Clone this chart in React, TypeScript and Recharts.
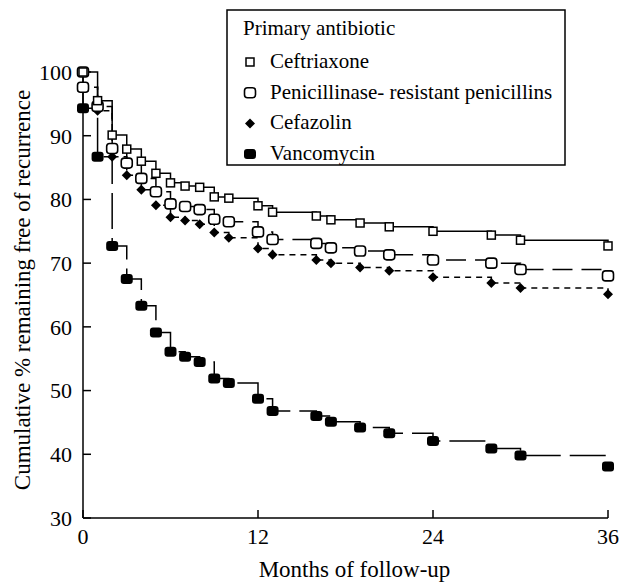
import React from "react";
import { LineChart, Line, XAxis, YAxis, Label } from "recharts";

const FONT = '"Liberation Serif", "Times New Roman", serif';

const monthTicks = [0, 12, 24, 36];
const pctTicks = [30, 40, 50, 60, 70, 80, 90, 100];

const ceftriaxoneMonths = [0, 1, 2, 3, 4, 5, 6, 7, 8, 9, 10, 12, 13, 16, 17, 19, 21, 24, 28, 30, 36];
const ceftriaxonePct = [100, 95.5, 90.1, 87.9, 86.0, 84.1, 82.6, 82.1, 81.9, 80.4, 80.2, 79.0, 78.0, 77.4, 76.8, 76.3, 75.7, 75.0, 74.4, 73.6, 72.7];

const penicillinMonths = [0, 0, 1, 2, 3, 4, 5, 6, 7, 8, 9, 10, 12, 13, 16, 17, 19, 21, 24, 28, 30, 36];
const penicillinPct = [100, 97.6, 94.6, 88.0, 85.7, 83.3, 81.2, 79.3, 78.9, 78.4, 76.9, 76.5, 74.9, 73.7, 73.1, 72.4, 71.9, 71.3, 70.5, 70.0, 69.0, 68.0];

const cefazolinMonths = [0, 1, 2, 3, 4, 5, 6, 7, 8, 9, 10, 12, 13, 16, 17, 19, 21, 24, 28, 30, 36];
const cefazolinPct = [97.6, 93.9, 86.7, 83.8, 81.5, 79.1, 77.2, 76.7, 76.1, 74.8, 74.0, 72.3, 71.3, 70.5, 70.0, 69.3, 68.8, 67.8, 66.9, 66.1, 65.1];

const vancomycinMonths = [0, 0, 1, 2, 3, 4, 5, 6, 7, 8, 9, 10, 12, 13, 16, 17, 19, 21, 24, 28, 30, 36];
const vancomycinPct = [97.6, 94.3, 86.7, 72.7, 67.5, 63.3, 59.1, 56.1, 55.3, 54.5, 51.9, 51.2, 48.7, 46.8, 46.0, 45.1, 44.2, 43.3, 42.1, 40.9, 39.8, 38.1];

const legendTitle = "Primary antibiotic";
const seriesNames = ["Ceftriaxone", "Penicillinase- resistant penicillins", "Cefazolin", "Vancomycin"];

const toRows = (months: number[], pct: number[]) =>
  months.map((m, i) => ({ month: m, pct: pct[i] }));

type Pt = { cx: number; cy: number };

const OpenSquare = ({ cx, cy }: Pt) => (
  <rect x={cx - 4} y={cy - 4} width={8} height={8} fill="#fff" stroke="#000" strokeWidth={1.5} />
);
const OpenRound = ({ cx, cy }: Pt) => (
  <rect x={cx - 5.5} y={cy - 5} width={11} height={10} rx={3} fill="#fff" stroke="#000" strokeWidth={1.6} />
);
const Diamond = ({ cx, cy }: Pt) => (
  <path d={`M${cx},${cy - 5}L${cx + 5},${cy}L${cx},${cy + 5}L${cx - 5},${cy}Z`} fill="#000" />
);
const FilledRound = ({ cx, cy }: Pt) => (
  <rect x={cx - 6} y={cy - 5} width={12} height={10} rx={3} fill="#000" />
);

const shapes = [OpenSquare, OpenRound, Diamond, FilledRound];

const dotOf = (Shape: React.FC<Pt>) => (p: any) => (
  <Shape key={`d-${p.index}`} cx={p.cx} cy={p.cy} />
);

// legend box sits inside the plot, top right
const LegendBox = () => (
  <svg
    width={340}
    height={157}
    style={{ position: "absolute", left: 226, top: 9 }}
    fontFamily={FONT}
    fontSize={21}
  >
    <rect x={1} y={1} width={338} height={155} fill="#fff" stroke="#000" strokeWidth={1.5} />
    <text x={17} y={26} fill="#000">{legendTitle}</text>
    {seriesNames.map((name, i) => {
      const Shape = shapes[i];
      const base = 59 + i * 30.7;
      return (
        <g key={name}>
          <Shape cx={24} cy={base - 6} />
          <text x={44} y={base} fill="#000">{name}</text>
        </g>
      );
    })}
  </svg>
);

export default function App() {
  return (
    <div style={{ position: "relative", width: 620, height: 585, background: "#fff" }}>
      <style>{"body{margin:0;background:#fff}"}</style>
      <LineChart width={620} height={585} margin={{ top: 72, right: 12, bottom: 27, left: 33 }}>
        <XAxis
          type="number"
          dataKey="month"
          domain={[0, 36]}
          ticks={monthTicks}
          allowDuplicatedCategory
          height={40}
          stroke="#000"
          strokeWidth={1.5}
          tickSize={-8}
          tickMargin={18}
          tick={{ fill: "#000", fontSize: 22, fontFamily: FONT }}
        >
          <Label
            content={({ viewBox }: any) => (
              <text
                x={viewBox.x + viewBox.width / 2 + 9}
                y={viewBox.y + 59}
                textAnchor="middle"
                fontSize={23}
                fontFamily={FONT}
                fill="#000"
              >
                Months of follow-up
              </text>
            )}
          />
        </XAxis>
        <YAxis
          type="number"
          domain={[30, 100]}
          ticks={pctTicks}
          width={50}
          stroke="#000"
          strokeWidth={1.5}
          tickSize={-8}
          tickMargin={19}
          tick={{ fill: "#000", fontSize: 22, fontFamily: FONT }}
        >
          <Label
            content={({ viewBox }: any) => {
              const cx = 22;
              const cy = viewBox.y + viewBox.height / 2 - 5;
              return (
                <text
                  x={cx}
                  y={cy}
                  transform={`rotate(-90 ${cx} ${cy})`}
                  textAnchor="middle"
                  dominantBaseline="central"
                  fontSize={23}
                  fontFamily={FONT}
                  fill="#000"
                >
                  Cumulative % remaining free of recurrence
                </text>
              );
            }}
          />
        </YAxis>
        <Line
          data={toRows(vancomycinMonths, vancomycinPct)}
          dataKey="pct"
          type="stepAfter"
          stroke="#000"
          strokeWidth={1.5}
          strokeDasharray="36 9"
          dot={dotOf(FilledRound)}
          activeDot={false}
          isAnimationActive={false}
        />
        <Line
          data={toRows(cefazolinMonths, cefazolinPct)}
          dataKey="pct"
          type="stepAfter"
          stroke="#000"
          strokeWidth={1.5}
          strokeDasharray="6 5"
          dot={dotOf(Diamond)}
          activeDot={false}
          isAnimationActive={false}
        />
        <Line
          data={toRows(penicillinMonths, penicillinPct)}
          dataKey="pct"
          type="stepAfter"
          stroke="#000"
          strokeWidth={1.5}
          strokeDasharray="20 9"
          dot={dotOf(OpenRound)}
          activeDot={false}
          isAnimationActive={false}
        />
        <Line
          data={toRows(ceftriaxoneMonths, ceftriaxonePct)}
          dataKey="pct"
          type="stepAfter"
          stroke="#000"
          strokeWidth={1.5}
          dot={dotOf(OpenSquare)}
          activeDot={false}
          isAnimationActive={false}
        />
      </LineChart>
      <LegendBox />
    </div>
  );
}
